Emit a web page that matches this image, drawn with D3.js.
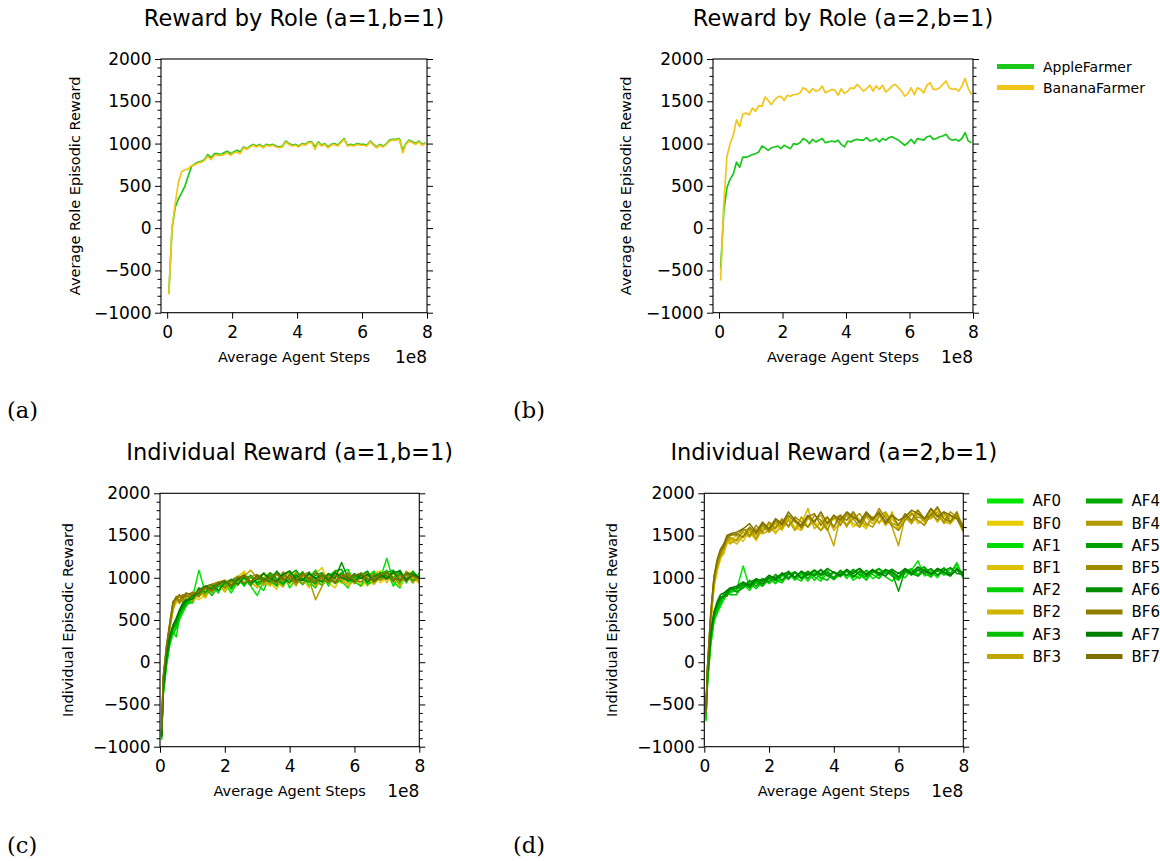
<!DOCTYPE html>
<html><head><meta charset="utf-8">
<script src="https://cdn.jsdelivr.net/npm/d3@7"></script>
<style>
body{margin:0;background:#fff}
svg{display:block}
text{font-family:"DejaVu Sans",sans-serif;fill:#000}
</style>
</head><body>
<svg id="chart" width="1160" height="861"></svg>
<script>
// ---------- DATA ----------
const roleSteps = [0.05,0.15,0.25,0.35,0.45,0.55,0.65,0.75,0.85,0.95,
 1.05,1.15,1.25,1.35,1.45,1.55,1.65,1.75,1.85,1.95,
 2.05,2.15,2.25,2.35,2.45,2.55,2.65,2.75,2.85,2.95,
 3.05,3.15,3.25,3.35,3.45,3.55,3.65,3.75,3.85,3.95,
 4.05,4.15,4.25,4.35,4.45,4.55,4.65,4.75,4.85,4.95,
 5.05,5.15,5.25,5.35,5.45,5.55,5.65,5.75,5.85,5.95,
 6.05,6.15,6.25,6.35,6.45,6.55,6.65,6.75,6.85,6.95,
 7.05,7.15,7.25,7.35,7.45,7.55,7.65,7.75,7.85,7.95];

const appleA = [-780,0,250,350,420,500,620,730,760,780,
 790,810,870,830,880,880,870,890,910,880,
 900,920,900,960,940,970,990,970,990,960,
 990,980,990,970,960,970,1030,1000,980,990,
 970,1000,990,1020,1020,960,1020,980,1000,960,
 990,1000,980,1020,1060,980,990,980,1000,990,
 990,980,1030,990,960,990,970,1000,1040,1050,
 1050,1060,920,1000,1040,1020,1000,1030,990,1010];
const bananaA = [-780,0,300,550,670,690,700,740,750,770,
 780,800,850,810,860,860,860,870,890,860,
 890,900,880,950,930,960,980,960,980,950,
 980,970,980,960,950,960,1020,990,970,980,
 960,990,980,1010,1010,930,1010,970,990,950,
 980,990,970,1010,1050,970,980,970,990,980,
 980,970,1020,980,950,980,960,990,1030,1040,
 1040,1050,890,990,1030,1010,990,1020,980,1000];
const appleB = [-480,200,480,580,640,780,720,840,840,850,
 870,880,900,970,950,920,950,960,970,940,
 980,960,940,1000,990,1010,1060,1040,1000,1050,
 1020,1040,1060,1010,1020,1030,1020,1040,990,960,
 1030,1020,1040,1050,1040,1040,1070,1030,1040,1060,
 1020,1060,1040,1070,1080,1060,1040,1010,980,1010,
 1050,1000,1060,1050,1040,1080,1090,1050,1060,1080,
 1090,1110,1060,1040,1050,1030,1060,1130,1030,1010];
const bananaB = [-620,300,850,1000,1100,1280,1200,1350,1360,1340,
 1420,1380,1450,1440,1550,1510,1460,1520,1550,1560,
 1510,1570,1560,1580,1580,1600,1660,1640,1600,1650,
 1620,1630,1680,1600,1620,1640,1630,1570,1650,1590,
 1620,1660,1650,1700,1660,1620,1650,1690,1620,1680,
 1640,1690,1610,1640,1680,1700,1660,1620,1560,1590,
 1660,1580,1660,1640,1600,1690,1720,1640,1640,1660,
 1700,1740,1660,1640,1650,1620,1680,1770,1650,1580];

const indivSteps = [0.05,0.1,0.2,0.3,0.4,0.5,0.6,0.7,0.8,
 1.0,1.2,1.4,1.6,1.8,2.0,2.2,2.4,2.6,2.8,
 3.0,3.2,3.4,3.6,3.8,4.0,4.2,4.4,4.6,4.8,
 5.0,5.2,5.4,5.6,5.8,6.0,6.2,6.4,6.6,6.8,
 7.0,7.2,7.4,7.6,7.8,8.0];

const agentNames = ["AF0","BF0","AF1","BF1","AF2","BF2","AF3","BF3",
                    "AF4","BF4","AF5","BF5","AF6","BF6","AF7","BF7"];
const agentColors = ["#00e600","#e6cc00","#00dc00","#dcc200","#00d000","#d0b400","#00c000","#c0a600",
                     "#00aa00","#b09a00","#009e00","#a08c00","#008e00","#907e00","#007e00","#807000"];

const indivC = [
 [-920,-400,-50,200,330,400,500,580,660, 760,1090,820,900,850,930,820,960,990,900, 790,960,1020,900,1060,880,990,1040,900,1000, 1030,900,1060,960,880,1040,900,1010,1080,1000, 1230,950,880,1060,940,1060],
 [-850,-250,100,420,620,700,740,760,720, 780,740,800,880,930,850,960,1010,1080,940, 900,1060,940,860,1030,920,1080,980,880,1050, 1120,940,880,1020,930,1040,900,960,1050,940, 1000,1080,900,1050,1070,930],
 [-900,-380,-20,230,360,300,520,620,680, 720,880,780,920,820,960,860,990,900,1020, 920,850,1040,980,900,1040,930,1070,950,880, 1040,930,1000,1060,1100,950,900,1070,960,1010, 1090,900,1040,940,1080,980],
 [-860,-280,80,400,600,760,700,800,760, 800,840,760,900,950,970,880,980,1060,900, 1030,960,900,1060,960,1010,900,1060,1000,930, 920,1020,1060,930,1070,960,1030,900,1050,1080, 940,1060,920,1080,990,940],
 [-880,-360,-10,240,340,410,560,640,700, 700,860,810,860,930,960,870,1000,920,1010, 930,1060,960,900,1020,1080,980,920,1050,980, 910,1030,1070,950,1030,990,1060,920,960,1050, 1080,990,930,1060,1040,980],
 [-840,-260,100,380,640,720,780,740,790, 760,800,860,870,920,830,940,990,1020,960, 880,1000,1060,950,890,1050,990,930,1010,1060, 980,950,1090,1000,900,970,1040,1000,920,1020, 1060,1000,900,1080,1010,960],
 [-870,-340,20,250,380,440,560,620,680, 760,840,880,790,900,900,970,910,1000,1020, 920,940,1020,1060,930,980,1040,920,1000,1090, 950,1030,930,980,1060,960,1030,970,1060,990, 1060,1000,1090,960,1040,1000],
 [-830,-220,120,400,620,760,720,780,800, 720,840,790,920,950,900,980,910,1020,1090, 1000,910,1040,930,1000,1070,940,1010,1040,900, 1000,960,1060,970,1030,940,1000,1050,950,1060, 1020,950,1050,980,1010,960],
 [-890,-330,20,260,400,460,580,640,700, 790,820,890,830,920,950,880,980,1010,910, 1020,950,1030,920,1050,970,1000,1070,960,930, 1030,990,1080,1100,950,1010,1050,940,1030,980, 1060,1090,980,1040,970,1000],
 [-820,-200,140,420,660,740,780,720,760, 810,770,880,900,930,940,980,930,1030,950, 1030,980,920,1040,960,1000,1060,930,980,740, 900,1020,960,1050,1000,950,1030,1060,940,1000, 980,1070,990,1030,940,1020],
 [-880,-320,40,270,420,480,600,660,720, 750,880,830,890,940,880,960,1000,920,1030, 940,970,1060,990,920,1040,1090,980,950,1030, 1060,960,1010,1050,990,940,1030,1080,960,1010, 1030,960,1060,980,1070,1000],
 [-810,-190,160,440,680,780,700,740,800, 740,840,900,830,950,880,970,1020,940,1010, 1040,950,1010,960,1070,980,920,1030,1070,960, 1000,1050,940,1010,1040,930,1010,960,1050,970, 1020,1060,960,1000,1040,990],
 [-870,-300,60,300,430,500,600,680,720, 790,810,900,920,850,940,980,920,1010,950, 1030,990,950,1080,990,940,1030,970,1060,990, 950,1050,990,1180,1000,960,1040,950,1010,1060, 990,1080,960,1060,1030,1000],
 [-800,-180,180,450,700,770,720,800,780, 830,780,890,920,940,960,900,990,1030,940, 1010,1050,970,930,1030,990,950,1040,980,1060, 990,940,1030,1000,1050,970,950,1040,990,1030, 1070,970,1030,960,1040,990],
 [-860,-290,80,310,440,520,620,700,740, 750,860,900,860,930,960,910,980,1030,940, 980,1050,990,960,1040,1080,980,970,1050,990, 1040,970,1060,1000,970,1050,990,1040,960,1030, 990,1060,1080,970,1040,1000],
 [-800,-170,200,460,720,760,800,760,820, 800,850,890,850,940,970,910,1000,1020,950, 1030,960,1000,1050,970,1030,960,1050,990,950, 1040,990,940,1040,980,1030,1050,990,970,1040, 1060,990,970,1050,1020,990]
];

const indivD = [
 [-700,-250,200,480,580,660,740,800,820, 860,1140,880,940,900,990,940,1030,1060,970, 1050,960,1060,990,1090,980,1040,1080,970,1030, 1080,990,1040,1070,1100,980,1050,1090,1200,1020, 1080,1000,1120,1040,1160,990],
 [-650,-150,450,880,1080,1220,1300,1400,1420, 1440,1480,1540,1440,1580,1620,1520,1640,1680,1570, 1720,1600,1680,1560,1620,1700,1620,1740,1600,1680, 1600,1700,1780,1620,1700,1560,1720,1640,1760,1650, 1800,1660,1740,1640,1720,1600],
 [-680,-230,230,500,600,680,760,820,850, 880,920,850,960,990,930,990,960,1080,1000, 960,1070,1010,960,1060,1000,1080,990,1090,1030, 980,1060,1100,1010,960,1060,1000,1100,1040,1110, 1010,1090,1030,1100,1120,1040],
 [-640,-140,480,900,1100,1240,1320,1480,1440, 1500,1430,1560,1500,1620,1540,1640,1560,1720,1600, 1560,1700,1640,1560,1720,1600,1740,1620,1760,1640, 1580,1720,1640,1760,1700,1620,1720,1780,1640,1700, 1780,1660,1760,1700,1740,1560],
 [-660,-220,260,520,620,700,780,820,840, 840,880,940,870,960,1000,930,1020,1060,980, 1040,1070,970,1050,1080,980,1050,1090,1000,1070, 970,1080,1020,1090,1030,990,1070,1110,1020,1080, 1100,1030,1110,1050,1180,1000],
 [-630,-120,500,920,1120,1250,1280,1420,1460, 1400,1500,1560,1460,1580,1640,1540,1600,1700,1560, 1640,1820,1580,1660,1720,1560,1660,1740,1640,1600, 1720,1640,1740,1620,1780,1580,1680,1740,1800,1660, 1720,1820,1660,1640,1780,1580],
 [-640,-200,280,540,640,720,800,840,800, 800,930,880,950,900,1010,970,940,1040,1070, 990,1040,1090,1000,970,1070,1010,1080,1030,990, 1090,1040,990,1080,1020,970,1090,1040,1110,1050, 1010,1100,1050,1020,1100,1030],
 [-620,-100,520,940,1140,1260,1340,1500,1400, 1460,1540,1480,1580,1520,1560,1660,1580,1680,1560, 1720,1600,1680,1740,1580,1380,1720,1600,1780,1680, 1620,1720,1660,1740,1600,1380,1720,1640,1760,1680, 1700,1780,1640,1740,1700,1540],
 [-620,-180,300,540,660,740,800,780,860, 870,900,950,980,910,990,1010,1040,980,1060, 1000,1080,1020,1090,1030,980,1070,1020,1100,1040, 1010,1070,1110,1050,1060,1000,1080,1030,1090,1130, 1040,1110,1060,1020,1110,1040],
 [-600,-80,540,960,1160,1280,1360,1440,1480, 1440,1560,1580,1460,1620,1540,1600,1680,1620,1700, 1580,1720,1640,1560,1660,1700,1740,1620,1700,1760, 1640,1600,1720,1780,1640,1620,1740,1660,1720,1680, 1820,1740,1660,1780,1720,1600],
 [-600,-160,320,560,680,760,780,800,880, 830,880,970,900,990,950,1040,970,1050,1010, 1070,990,1090,1030,1060,1000,1090,1030,1070,1110, 1020,1080,1040,1100,1060,840,1090,1050,1020,1100, 1050,1080,1110,1040,1090,1020],
 [-590,-60,560,980,1180,1300,1380,1460,1520, 1500,1580,1500,1620,1540,1660,1580,1700,1600,1720, 1660,1600,1740,1680,1560,1740,1620,1760,1700,1600, 1740,1680,1820,1700,1620,1560,1680,1760,1680,1620, 1760,1680,1780,1660,1740,1620],
 [-580,-140,340,580,700,780,760,840,870, 880,930,890,970,930,1010,970,1060,1000,1070, 990,1060,1030,1100,1020,1070,1030,1090,1010,1080, 1040,1100,1030,1090,1070,1010,1100,1040,1090,1050, 1110,1030,1080,1120,1050,1040],
 [-580,-50,580,1000,1200,1320,1360,1480,1500, 1520,1480,1600,1520,1640,1560,1680,1620,1740,1660, 1600,1720,1760,1620,1720,1600,1740,1680,1780,1640, 1760,1680,1780,1640,1740,1620,1760,1680,1800,1700, 1740,1840,1700,1660,1780,1560],
 [-560,-120,360,600,720,800,820,850,880, 900,950,910,990,960,1030,990,1040,1070,1000, 1080,1030,1090,1040,1110,1060,1020,1100,1050,1110, 1040,1090,1060,1020,1100,1050,1110,1060,1130,1080, 1040,1110,1070,1030,1100,1060],
 [-560,-40,600,1020,1220,1340,1400,1500,1520, 1540,1580,1640,1540,1660,1580,1700,1640,1780,1680, 1620,1740,1660,1780,1640,1740,1680,1780,1720,1660, 1780,1700,1760,1660,1740,1680,1720,1800,1760,1700, 1820,1720,1780,1740,1700,1580]
];

const roleNames = ["AppleFarmer","BananaFarmer"];
const roleColors = ["#19c819","#f2c619"];
const xTicks = [0,2,4,6,8];
const yMajor = [-1000,-500,0,500,1000,1500,2000];

// ---------- DRAW ----------
const svg = d3.select("#chart");
const fmt = d3.format("d");

function panel(p, idx) {
  const x = d3.scaleLinear().domain(p.xdom).range([p.left, p.right]);
  const y = d3.scaleLinear().domain([-1000, 2000]).range([p.bottom, p.top]);
  const g = svg.append("g");
  const clipId = "clip" + idx;
  g.append("clipPath").attr("id", clipId).append("rect")
    .attr("x", p.left).attr("y", p.top).attr("width", p.right - p.left).attr("height", p.bottom - p.top);

  const line = d3.line().x(d => x(d[0])).y(d => y(d[1]));
  const lg = g.append("g").attr("clip-path", `url(#${clipId})`);
  p.series.forEach(s => {
    const pts = s.xs.map((v, i) => [v, s.ys[i]]).filter(d => d[1] !== undefined);
    lg.append("path").attr("d", line(pts)).attr("fill", "none")
      .attr("stroke", s.color).attr("stroke-width", p.lw).attr("stroke-linejoin", "round");
  });

  const minor = d3.range(-1000, 2001, 100).filter(v => v % 500 !== 0);
  const la = g.append("g").attr("transform", `translate(${p.left},0)`)
    .call(d3.axisLeft(y).tickValues(yMajor).tickFormat(fmt).tickSize(6).tickPadding(3.5));
  la.select(".domain").remove();
  la.selectAll("text").style("font-size", "17px").style("font-family", "DejaVu Sans");
  const lm = g.append("g").attr("transform", `translate(${p.left},0)`)
    .call(d3.axisLeft(y).tickValues(minor).tickFormat("").tickSize(3.5));
  lm.select(".domain").remove();
  const ra = g.append("g").attr("transform", `translate(${p.right},0)`)
    .call(d3.axisRight(y).tickValues(yMajor).tickFormat("").tickSize(6));
  ra.select(".domain").remove();
  const rm = g.append("g").attr("transform", `translate(${p.right},0)`)
    .call(d3.axisRight(y).tickValues(minor).tickFormat("").tickSize(3.5));
  rm.select(".domain").remove();
  const ba = g.append("g").attr("transform", `translate(0,${p.bottom})`)
    .call(d3.axisBottom(x).tickValues(xTicks).tickFormat(fmt).tickSize(6).tickPadding(7));
  ba.select(".domain").remove();
  ba.selectAll("text").style("font-size", "17px").style("font-family", "DejaVu Sans");
  g.selectAll(".tick line").attr("stroke", "#000").attr("stroke-width", 1);

  g.append("rect").attr("x", p.left).attr("y", p.top)
    .attr("width", p.right - p.left).attr("height", p.bottom - p.top)
    .attr("fill", "none").attr("stroke", "#000").attr("stroke-width", 1.1);

  g.append("text").attr("x", (p.left + p.right) / 2).attr("y", p.top - 33)
    .attr("text-anchor", "middle").style("font-size", "22.5px").text(p.title);
  g.append("text").attr("transform", `translate(${p.ylabX},${(p.top + p.bottom) / 2}) rotate(-90)`)
    .attr("text-anchor", "middle").attr("dy", "0.35em").style("font-size", "14.5px").text(p.ylabel);
  g.append("text").attr("x", (p.left + p.right) / 2).attr("y", p.bottom + 49)
    .attr("text-anchor", "middle").style("font-size", "14.5px").text("Average Agent Steps");
  g.append("text").attr("x", p.right).attr("y", p.bottom + 50)
    .attr("text-anchor", "end").style("font-size", "17px").text("1e8");
  svg.append("text").attr("x", p.labX).attr("y", p.labY)
    .style("font-family", "DejaVu Serif").style("font-size", "22.5px").text(p.label);
}

panel({left:161, right:427, top:59, bottom:312.7, xdom:[-0.19, 8], lw:1.7,
  title:"Reward by Role (a=1,b=1)", ylabel:"Average Role Episodic Reward", ylabX:75,
  label:"(a)", labX:7, labY:418,
  series:[{xs:roleSteps, ys:appleA, color:roleColors[0]},{xs:roleSteps, ys:bananaA, color:roleColors[1]}]}, 0);

panel({left:713, right:973, top:59, bottom:312.7, xdom:[-0.19, 8], lw:1.7,
  title:"Reward by Role (a=2,b=1)", ylabel:"Average Role Episodic Reward", ylabX:626,
  label:"(b)", labX:513, labY:418,
  series:[{xs:roleSteps, ys:appleB, color:roleColors[0]},{xs:roleSteps, ys:bananaB, color:roleColors[1]}]}, 1);

panel({left:160, right:419.3, top:493.3, bottom:746.7, xdom:[0, 8], lw:1.5,
  title:"Individual Reward (a=1,b=1)", ylabel:"Individual Episodic Reward", ylabX:68,
  label:"(c)", labX:7, labY:853,
  series:indivC.map((ys, i) => ({xs:indivSteps, ys, color:agentColors[i]}))}, 2);

panel({left:704.3, right:963.3, top:493.3, bottom:746.7, xdom:[0, 8], lw:1.5,
  title:"Individual Reward (a=2,b=1)", ylabel:"Individual Episodic Reward", ylabX:612,
  label:"(d)", labX:513, labY:853,
  series:indivD.map((ys, i) => ({xs:indivSteps, ys, color:agentColors[i]}))}, 3);

const legB = svg.append("g");
roleNames.forEach((n, i) => {
  const yy = 66.5 + i * 21;
  legB.append("line").attr("x1", 997).attr("x2", 1034).attr("y1", yy).attr("y2", yy)
    .attr("stroke", roleColors[i]).attr("stroke-width", 5);
  legB.append("text").attr("x", 1043).attr("y", yy).attr("dy", "0.36em")
    .style("font-size", "14px").text(n);
});
const legD = svg.append("g");
agentNames.forEach((n, i) => {
  const col = Math.floor(i / 8), row = i % 8;
  const x0 = col === 0 ? 987 : 1086;
  const yy = 501 + row * 22.2;
  legD.append("line").attr("x1", x0).attr("x2", x0 + 36.5).attr("y1", yy).attr("y2", yy)
    .attr("stroke", agentColors[i]).attr("stroke-width", 5);
  legD.append("text").attr("x", x0 + 45.5).attr("y", yy).attr("dy", "0.36em")
    .style("font-size", "15px").text(n);
});
</script>
</body></html>
